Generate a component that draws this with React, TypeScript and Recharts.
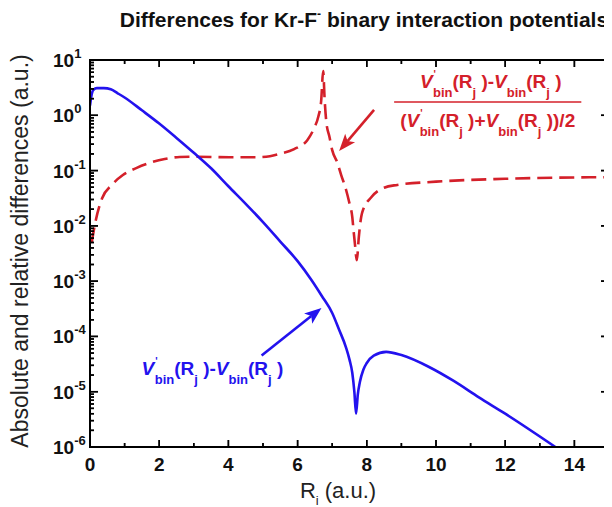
import React from 'react';
import { LineChart, Line, XAxis, YAxis, ReferenceLine } from 'recharts';

// Absolute difference V'bin(Rj) - Vbin(Rj) versus Ri (a.u.)
const absR = [0, 0.04, 0.1, 0.2, 0.4, 0.6, 0.8, 1.0, 1.5, 2.0, 2.5, 3.0, 3.5, 4.0, 4.5, 5.0, 5.5, 6.0, 6.4, 6.7, 7.0, 7.2, 7.4, 7.5, 7.58, 7.64, 7.69, 7.74, 7.8, 7.9, 8.0, 8.2, 8.56, 9.0, 9.8, 10.5, 11.24, 12.0, 13.45];
const absDiff = [1.5, 2.24, 2.9, 3.1, 3.1, 2.95, 2.5, 2.1, 1.23, 0.71, 0.39, 0.21, 0.11, 0.052, 0.025, 0.0117, 5.2e-3, 2.3e-3, 1.05e-3, 5.4e-4, 2.66e-4, 1.32e-4, 6.3e-5, 3.8e-5, 2.2e-5, 1.0e-5, 4.0e-6, 8.9e-6, 1.5e-5, 2.5e-5, 3.3e-5, 4.5e-5, 5.25e-5, 4.6e-5, 2.8e-5, 1.58e-5, 7.9e-6, 4.0e-6, 1.0e-6];

// Relative difference (V'bin - Vbin) / ((V'bin + Vbin)/2)
const relR = [0.05, 0.15, 0.35, 0.63, 0.95, 1.35, 1.73, 2.16, 2.59, 3.11, 4.03, 4.8, 5.2, 5.48, 5.9, 6.28, 6.48, 6.6, 6.68, 6.74, 6.78, 6.83, 6.92, 7.0, 7.15, 7.26, 7.4, 7.49, 7.58, 7.62, 7.66, 7.71, 7.77, 7.81, 7.87, 8.13, 8.5, 8.88, 10, 12, 15];
const relDiff = [5.0e-3, 1.12e-2, 3.16e-2, 5.5e-2, 8.3e-2, 0.112, 0.138, 0.162, 0.176, 0.178, 0.174, 0.174, 0.182, 0.2, 0.245, 0.355, 0.59, 0.95, 1.78, 6.3, 2.0, 0.76, 0.41, 0.234, 0.138, 0.083, 0.045, 0.027, 0.0145, 0.0079, 0.0045, 0.0024, 0.0063, 0.011, 0.0178, 0.033, 0.049, 0.055, 0.063, 0.071, 0.076];

// Axis ticks
const xTicks = [0, 1, 2, 3, 4, 5, 6, 7, 8, 9, 10, 11, 12, 13, 14];
const xLabelled = [0, 2, 4, 6, 8, 10, 12, 14];
const decadeExps = [-6, -5, -4, -3, -2, -1, 0, 1];
const yTicks: number[] = [];
decadeExps.forEach((e) => {
  if (e === 1) { yTicks.push(10); return; }
  for (let m = 1; m <= 9; m++) yTicks.push(m * Math.pow(10, e));
});

const absData = absR.map((r, i) => ({ r, v: absDiff[i] }));
const relData = relR.map((r, i) => ({ r, v: relDiff[i] }));

const X_DOMAIN = [0, 15];
const Y_DOMAIN = [1e-6, 10];

const W = 604;
const H = 499;
const PLOT = { left: 82, top: 52, right: 601, bottom: 439 };
const AXIS = '#000000';
const RED = '#d4202a';
const BLUE = '#2312ee';
const FONT = '"Liberation Sans", Arial, Helvetica, sans-serif';

const decadeOf = (v: number) => Math.round(Math.log10(v));
const isDecade = (v: number) => Math.abs(Math.log10(v) - decadeOf(v)) < 1e-6;

const LeftTick = (p: any) => {
  const v = p.payload.value;
  const major = isDecade(v);
  const len = major ? 8 : 4;
  return (
    <g>
      <line x1={PLOT.left} x2={PLOT.left + len} y1={p.y} y2={p.y} stroke={AXIS} strokeWidth={1.5} />
      {major && (
        <text x={45} y={p.y + 7} fontFamily={FONT} fontWeight="bold" fontSize={19} fill="#111">
          10<tspan dy={-9} fontSize={13}>{String(decadeOf(v))}</tspan>
        </text>
      )}
    </g>
  );
};

const RightTick = (p: any) => {
  const major = isDecade(p.payload.value);
  const len = major ? 8 : 4;
  return <line x1={PLOT.right} x2={PLOT.right - len} y1={p.y} y2={p.y} stroke={AXIS} strokeWidth={1.5} />;
};

const BottomTick = (p: any) => {
  const v = p.payload.value;
  const major = xLabelled.includes(v);
  const len = major ? 7 : 4;
  return (
    <g>
      <line x1={p.x} x2={p.x} y1={PLOT.bottom} y2={PLOT.bottom - len} stroke={AXIS} strokeWidth={1.5} />
      {major && (
        <text x={p.x} y={PLOT.bottom + 24} textAnchor="middle" fontFamily={FONT} fontWeight="bold" fontSize={19} fill="#111">
          {String(v)}
        </text>
      )}
    </g>
  );
};

const TopTick = (p: any) => {
  const major = xLabelled.includes(p.payload.value);
  const len = major ? 7 : 4;
  return <line x1={p.x} x2={p.x} y1={PLOT.top} y2={PLOT.top + len} stroke={AXIS} strokeWidth={1.5} />;
};

// Plot frame with inward tick marks, spanned by the domain corners
const frameCorners = [{ x: X_DOMAIN[0], y: Y_DOMAIN[0] }, { x: X_DOMAIN[1], y: Y_DOMAIN[1] }];
const frameShape = (p: any) => {
  const l = Math.min(p.x1, p.x2);
  const r = Math.max(p.x1, p.x2);
  const t = Math.min(p.y1, p.y2);
  const b = Math.max(p.y1, p.y2);
  const ly0 = Math.log10(Y_DOMAIN[0]);
  const ly1 = Math.log10(Y_DOMAIN[1]);
  const px = (v: number) => l + ((v - X_DOMAIN[0]) / (X_DOMAIN[1] - X_DOMAIN[0])) * (r - l);
  const py = (v: number) => b - ((Math.log10(v) - ly0) / (ly1 - ly0)) * (b - t);
  const tw = 1.5;
  return (
    <g>
      <rect x={l} y={t} width={r - l} height={b - t} fill="none" stroke={AXIS} strokeWidth={2} />
      {xTicks.map((v) => {
        const len = xLabelled.includes(v) ? 7 : 4;
        const x = px(v);
        return (
          <g key={`fx${v}`}>
            <rect x={x - tw / 2} y={t} width={tw} height={len} fill={AXIS} />
            <rect x={x - tw / 2} y={b - len} width={tw} height={len} fill={AXIS} />
          </g>
        );
      })}
      {yTicks.map((v) => {
        const len = isDecade(v) ? 8 : 4;
        const y = py(v);
        return (
          <g key={`fy${v}`}>
            <rect x={l} y={y - tw / 2} width={len} height={tw} fill={AXIS} />
            <rect x={r - len} y={y - tw / 2} width={len} height={tw} fill={AXIS} />
          </g>
        );
      })}
    </g>
  );
};

// Axis titles and chart title
const XTitles = () => (
  <g>
    <text x={356} y={19} textAnchor="middle" fontFamily={FONT} fontWeight="bold" fontSize={21} fill="#111">
      Differences for Kr-F<tspan fontSize={12} dy={-9}>-</tspan>
      <tspan dy={9}> binary interaction potentials</tspan>
    </text>
    <text x={330} y={490} textAnchor="middle" fontFamily={FONT} fontSize={22} fill="#222">
      R<tspan fontSize={13} dy={7}>i</tspan>
      <tspan dy={-7}> (a.u.)</tspan>
    </text>
  </g>
);

const YTitle = () => (
  <text x={20} y={243} transform="rotate(-90 20 243)" textAnchor="middle" fontFamily={FONT} fontSize={23} fill="#222">
    Absolute and relative differences (a.u.)
  </text>
);

const SUB = 13;
const SUBDY = 9;

// V'bin(Rj ) rendered as tspans
const VPrime = () => (
  <>
    <tspan fontStyle="italic">V</tspan>
    <tspan fontSize={10} dy={-10} dx={1}>'</tspan>
    <tspan fontSize={SUB} dy={10 + SUBDY} dx={-3}>bin</tspan>
    <tspan dy={-SUBDY}>(R</tspan>
    <tspan fontSize={SUB} dy={SUBDY}>j</tspan>
    <tspan dy={-SUBDY}> )</tspan>
  </>
);
const VPlain = () => (
  <>
    <tspan fontStyle="italic">V</tspan>
    <tspan fontSize={SUB} dy={SUBDY}>bin</tspan>
    <tspan dy={-SUBDY}>(R</tspan>
    <tspan fontSize={SUB} dy={SUBDY}>j</tspan>
    <tspan dy={-SUBDY}> )</tspan>
  </>
);

const arrowParts = (p: any, color: string) => {
  const { x1, y1, x2, y2 } = p;
  const dx = x2 - x1;
  const dy = y2 - y1;
  const L = Math.hypot(dx, dy) || 1;
  const ux = dx / L;
  const uy = dy / L;
  const hl = 17;
  const hw = 6.5;
  const bx = x2 - ux * hl;
  const by = y2 - uy * hl;
  const nx = x2 - ux * (hl - 4);
  const ny = y2 - uy * (hl - 4);
  return (
    <>
      <line x1={x1} y1={y1} x2={nx} y2={ny} stroke={color} strokeWidth={2.6} />
      <polygon
        points={`${x2},${y2} ${bx - uy * hw},${by + ux * hw} ${nx},${ny} ${bx + uy * hw},${by - ux * hw}`}
        fill={color}
      />
    </>
  );
};

const redArrowShape = (p: any) => <g>{arrowParts(p, RED)}</g>;

// Blue arrow with its label below-left of the tail
const blueArrowShape = (p: any) => (
  <g>
    {arrowParts(p, BLUE)}
    <text x={p.x1 - 120} y={p.y1 + 19} fontFamily={FONT} fontWeight="bold" fontSize={19} fill={BLUE}>
      <VPrime />
      <tspan>-</tspan>
      <VPlain />
    </text>
  </g>
);

// Fraction bar with numerator above and denominator below
const fractionShape = (p: any) => {
  const cx = (p.x1 + p.x2) / 2;
  return (
    <g>
      <line x1={p.x1} y1={p.y1} x2={p.x2} y2={p.y2} stroke={RED} strokeWidth={1.6} />
      <text x={cx + 3} y={p.y1 - 14} textAnchor="middle" fontFamily={FONT} fontWeight="bold" fontSize={19} fill={RED}>
        <VPrime />
        <tspan>-</tspan>
        <VPlain />
      </text>
      <text x={cx} y={p.y1 + 25} textAnchor="middle" fontFamily={FONT} fontWeight="bold" fontSize={19} fill={RED}>
        <tspan>(</tspan>
        <VPrime />
        <tspan>+</tspan>
        <VPlain />
        <tspan>)/2</tspan>
      </text>
    </g>
  );
};

// Annotation anchors in data coordinates
const redArrow = [{ x: 8.21, y: 1.25 }, { x: 7.2, y: 0.226 }];
const blueArrow = [{ x: 4.96, y: 4.5e-5 }, { x: 6.69, y: 3.27e-4 }];
const fractionBar = [{ x: 8.79, y: 1.74 }, { x: 14.2, y: 1.74 }];

export default function App() {
  return (
    <LineChart width={W} height={H} margin={{ top: PLOT.top - 1, right: W - PLOT.right - 1, bottom: 0, left: 0 }}>
      <XAxis
        xAxisId="bottom"
        dataKey="r"
        type="number"
        domain={X_DOMAIN}
        ticks={xTicks}
        interval={0}
        allowDataOverflow
        height={H - PLOT.bottom}
        tickLine={false}
        axisLine={{ stroke: AXIS, strokeWidth: 2 }}
        tick={<BottomTick />}
        label={<XTitles />}
      />
      <XAxis
        xAxisId="top"
        orientation="top"
        dataKey="r"
        type="number"
        domain={X_DOMAIN}
        ticks={xTicks}
        interval={0}
        allowDataOverflow
        height={1}
        tickLine={false}
        axisLine={{ stroke: AXIS, strokeWidth: 2 }}
        tick={<TopTick />}
      />
      <YAxis
        yAxisId="left"
        scale="log"
        type="number"
        domain={Y_DOMAIN}
        ticks={yTicks}
        interval={0}
        allowDataOverflow
        width={PLOT.left}
        tickLine={false}
        axisLine={{ stroke: AXIS, strokeWidth: 2 }}
        tick={<LeftTick />}
        label={<YTitle />}
      />
      <YAxis
        yAxisId="right"
        orientation="right"
        scale="log"
        type="number"
        domain={Y_DOMAIN}
        ticks={yTicks}
        interval={0}
        allowDataOverflow
        width={1}
        tickLine={false}
        axisLine={{ stroke: AXIS, strokeWidth: 2 }}
        tick={<RightTick />}
      />

      <Line
        xAxisId="bottom"
        yAxisId="left"
        data={relData}
        dataKey="v"
        type="monotone"
        stroke={RED}
        strokeWidth={2.6}
        strokeDasharray="15 7"
        dot={false}
        isAnimationActive={false}
      />
      <Line
        xAxisId="bottom"
        yAxisId="left"
        data={absData}
        dataKey="v"
        type="monotone"
        stroke={BLUE}
        strokeWidth={2.6}
        dot={false}
        isAnimationActive={false}
      />

      <ReferenceLine xAxisId="bottom" yAxisId="left" segment={frameCorners} ifOverflow="visible" shape={frameShape} />
      <ReferenceLine xAxisId="bottom" yAxisId="left" segment={redArrow} ifOverflow="visible" shape={redArrowShape} />
      <ReferenceLine xAxisId="bottom" yAxisId="left" segment={blueArrow} ifOverflow="visible" shape={blueArrowShape} />
      <ReferenceLine xAxisId="bottom" yAxisId="left" segment={fractionBar} ifOverflow="visible" shape={fractionShape} />
    </LineChart>
  );
}
